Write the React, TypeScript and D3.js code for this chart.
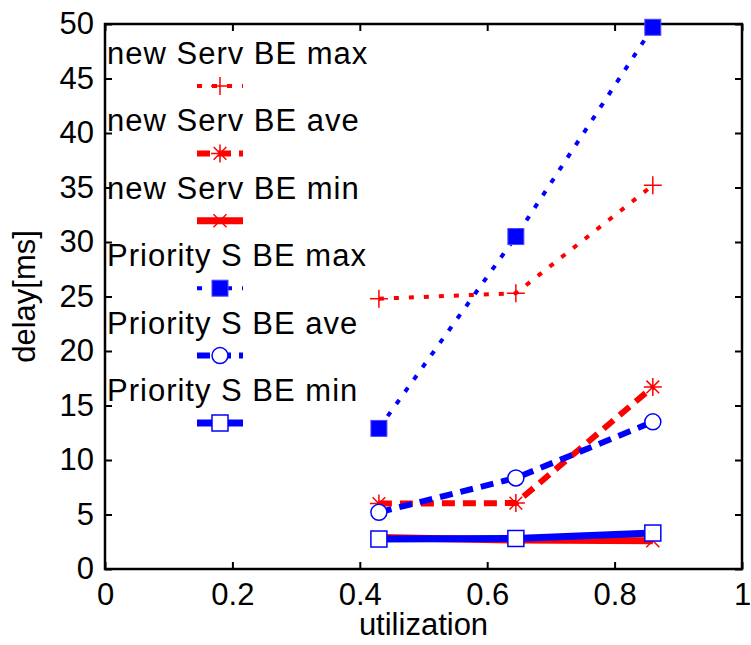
import { useEffect, useRef } from 'react';
import * as d3 from 'd3';

// data
const utilization = [0.43, 0.645, 0.86];
const newServMax = [24.8, 25.3, 35.2];
const newServAve = [6.0, 6.05, 16.7];
const newServMin = [2.9, 2.65, 2.6];
const prioMax = [12.9, 30.5, 49.7];
const prioAve = [5.2, 8.35, 13.5];
const prioMin = [2.75, 2.8, 3.3];

const xTicks = [0, 0.2, 0.4, 0.6, 0.8, 1];
const yTicks = [0, 5, 10, 15, 20, 25, 30, 35, 40, 45, 50];
const seriesNames = [
  'new Serv BE max',
  'new Serv BE ave',
  'new Serv BE min',
  'Priority S BE max',
  'Priority S BE ave',
  'Priority S BE min',
];

const RED = '#ff0000';
const BLUE = '#0000ff';
const FONT = '"Liberation Sans", Arial, Helvetica, sans-serif';

type Marker = 'plus' | 'star' | 'x' | 'fsquare' | 'circle' | 'osquare';

function App() {
  const svgRef = useRef<SVGSVGElement>(null);

  useEffect(() => {
    const W = 751;
    const H = 645;
    const left = 105;
    const right = 742;
    const top = 24;
    const bottom = 569;

    const svg = d3.select(svgRef.current);
    svg.selectAll('*').remove();

    const x = d3.scaleLinear().domain([0, 1]).range([left, right]);
    const y = d3.scaleLinear().domain([0, 50]).range([bottom, top]);

    const series = [
      { values: newServMax, color: RED, width: 4, dash: '5,10', marker: 'plus' as Marker },
      { values: newServAve, color: RED, width: 6, dash: '13,8', marker: 'star' as Marker },
      { values: newServMin, color: RED, width: 7, dash: null, marker: 'x' as Marker },
      { values: prioMax, color: BLUE, width: 4, dash: '5,10', marker: 'fsquare' as Marker },
      { values: prioAve, color: BLUE, width: 6, dash: '13,8', marker: 'circle' as Marker },
      { values: prioMin, color: BLUE, width: 7, dash: null, marker: 'osquare' as Marker },
    ].map((s, i) => ({ ...s, name: seriesNames[i] }));

    const drawMarker = (g: any, type: Marker, color: string, cx: number, cy: number) => {
      const m = g.append('g').attr('transform', `translate(${cx},${cy})`);
      if (type === 'plus') {
        m.append('path').attr('d', 'M-9,0H9M0,-9V9').attr('stroke', color).attr('stroke-width', 1.5).attr('fill', 'none');
      } else if (type === 'star') {
        const r = 9;
        const d = r * 0.707;
        m.append('path')
          .attr('d', `M${-r},0H${r}M0,${-r}V${r}M${-d},${-d}L${d},${d}M${-d},${d}L${d},${-d}`)
          .attr('stroke', color).attr('stroke-width', 1.5).attr('fill', 'none');
      } else if (type === 'x') {
        const d = 6.5;
        m.append('path').attr('d', `M${-d},${-d}L${d},${d}M${-d},${d}L${d},${-d}`)
          .attr('stroke', color).attr('stroke-width', 1.5).attr('fill', 'none');
      } else if (type === 'fsquare') {
        m.append('rect').attr('x', -8).attr('y', -8).attr('width', 16).attr('height', 16)
          .attr('fill', color).attr('stroke', '#4a4aff').attr('stroke-width', 1);
      } else if (type === 'circle') {
        m.append('circle').attr('r', 8).attr('fill', '#fff').attr('stroke', color).attr('stroke-width', 1.5);
      } else if (type === 'osquare') {
        m.append('rect').attr('x', -8).attr('y', -8).attr('width', 16).attr('height', 16)
          .attr('fill', '#fff').attr('stroke', color).attr('stroke-width', 1.5);
      }
    };

    // axes: ticks point inward on all four sides
    const fmt = (d: any) => String(d);
    const axes = [
      { ax: d3.axisBottom(x).tickValues(xTicks).tickFormat(fmt).tickSizeInner(-7).tickPadding(14), t: `translate(0,${bottom})` },
      { ax: d3.axisTop(x).tickValues(xTicks).tickFormat(() => '').tickSizeInner(-7), t: `translate(0,${top})` },
      { ax: d3.axisLeft(y).tickValues(yTicks).tickFormat(fmt).tickSizeInner(-7).tickPadding(11), t: `translate(${left},0)` },
      { ax: d3.axisRight(y).tickValues(yTicks).tickFormat(() => '').tickSizeInner(-7), t: `translate(${right},0)` },
    ];
    axes.forEach(({ ax, t }) => {
      const g = svg.append('g').attr('transform', t).call(ax.tickSizeOuter(0));
      g.select('.domain').remove();
      g.selectAll('line').attr('stroke', '#000').attr('stroke-width', 2);
      g.selectAll('text')
        .attr('fill', '#000')
        .style('font-family', FONT)
        .style('font-size', '31px');
    });

    svg.append('rect')
      .attr('x', left).attr('y', top)
      .attr('width', right - left).attr('height', bottom - top)
      .attr('fill', 'none').attr('stroke', '#000').attr('stroke-width', 2.5);

    // lines and markers
    const line = d3.line<number>().x((_, i) => x(utilization[i])).y((d) => y(d));
    series.forEach((s) => {
      svg.append('path')
        .datum(s.values)
        .attr('d', line)
        .attr('fill', 'none')
        .attr('stroke', s.color)
        .attr('stroke-width', s.width)
        .attr('stroke-dasharray', s.dash)
        .attr('stroke-linejoin', 'round');
      s.values.forEach((v, i) => drawMarker(svg, s.marker, s.color, x(utilization[i]), y(v)));
    });

    // legend
    const legY0 = 86;
    const legStep = 67.4;
    const legCx = 220;
    const legend = svg.append('g');
    series.forEach((s, i) => {
      const ly = legY0 + i * legStep;
      legend.append('text')
        .attr('x', 107)
        .attr('y', ly - 22)
        .style('font-family', FONT)
        .style('font-size', '31px')
        .style('letter-spacing', '1px')
        .attr('fill', '#000')
        .text(s.name);
      legend.append('line')
        .attr('x1', 197).attr('x2', 243)
        .attr('y1', ly).attr('y2', ly)
        .attr('stroke', s.color)
        .attr('stroke-width', s.width)
        .attr('stroke-dasharray', s.dash);
      drawMarker(legend, s.marker, s.color, legCx, ly);
    });

    // axis titles
    svg.append('text')
      .attr('x', (left + right) / 2)
      .attr('y', 635)
      .attr('text-anchor', 'middle')
      .style('font-family', FONT)
      .style('font-size', '31px')
      .text('utilization');

    svg.append('text')
      .attr('transform', `translate(35,${(top + bottom) / 2}) rotate(-90)`)
      .attr('text-anchor', 'middle')
      .style('font-family', FONT)
      .style('font-size', '31px')
      .text('delay[ms]');

    svg.attr('width', W).attr('height', H);
  }, []);

  return (
    <svg
      ref={svgRef}
      width={751}
      height={645}
      style={{ position: 'absolute', left: 0, top: 0, background: '#fff' }}
    />
  );
}

export default App;
